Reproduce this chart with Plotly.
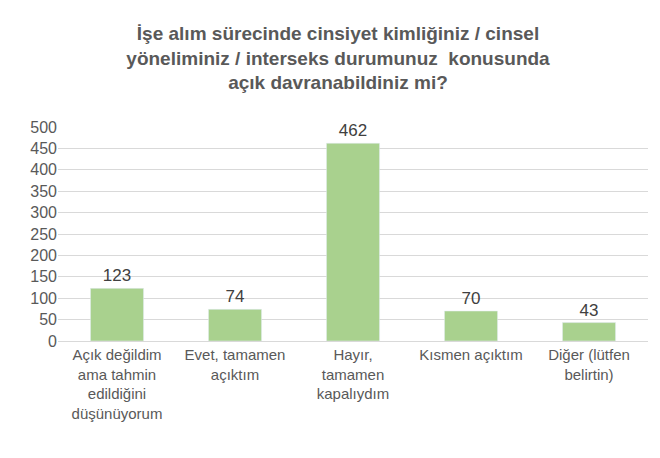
import plotly.graph_objects as go

categories = [
    "Açık değildim<br>ama tahmin<br>edildiğini<br>düşünüyorum",
    "Evet, tamamen<br>açıktım",
    "Hayır,<br>tamamen<br>kapalıydım",
    "Kısmen açıktım",
    "Diğer (lütfen<br>belirtin)",
]
values = [123, 74, 462, 70, 43]

fig = go.Figure(go.Bar(
    x=categories, y=values, width=0.45,
    marker_color="#A9D18E",
    text=values, textposition="outside",
    textfont=dict(size=17, color="#404040"),
    cliponaxis=False,
))

fig.update_layout(
    width=660, height=458,
    paper_bgcolor="white", plot_bgcolor="white",
    font=dict(family="Liberation Sans, Arial", color="#595959"),
    margin=dict(l=50, r=20, t=119, b=125),
    title=dict(
        text="<b>İşe alım sürecinde cinsiyet kimliğiniz / cinsel<br>"
             "yöneliminiz / interseks durumunuz  konusunda<br>açık davranabildiniz mi?</b>",
        x=0.5, xanchor="center", y=0.93, yanchor="top",
        font=dict(size=19, color="#595959"),
    ),
    showlegend=False,
    bargap=0.55,
)
fig.update_xaxes(showline=True, linecolor="#d9d9d9", tickfont=dict(size=15, color="#595959"),
                 ticks="", tickangle=0)
fig.update_yaxes(range=[0, 500], dtick=50, gridcolor="#d9d9d9", zeroline=False,
                 tickfont=dict(size=16, color="#595959"))

fig.write_html("out.html")
